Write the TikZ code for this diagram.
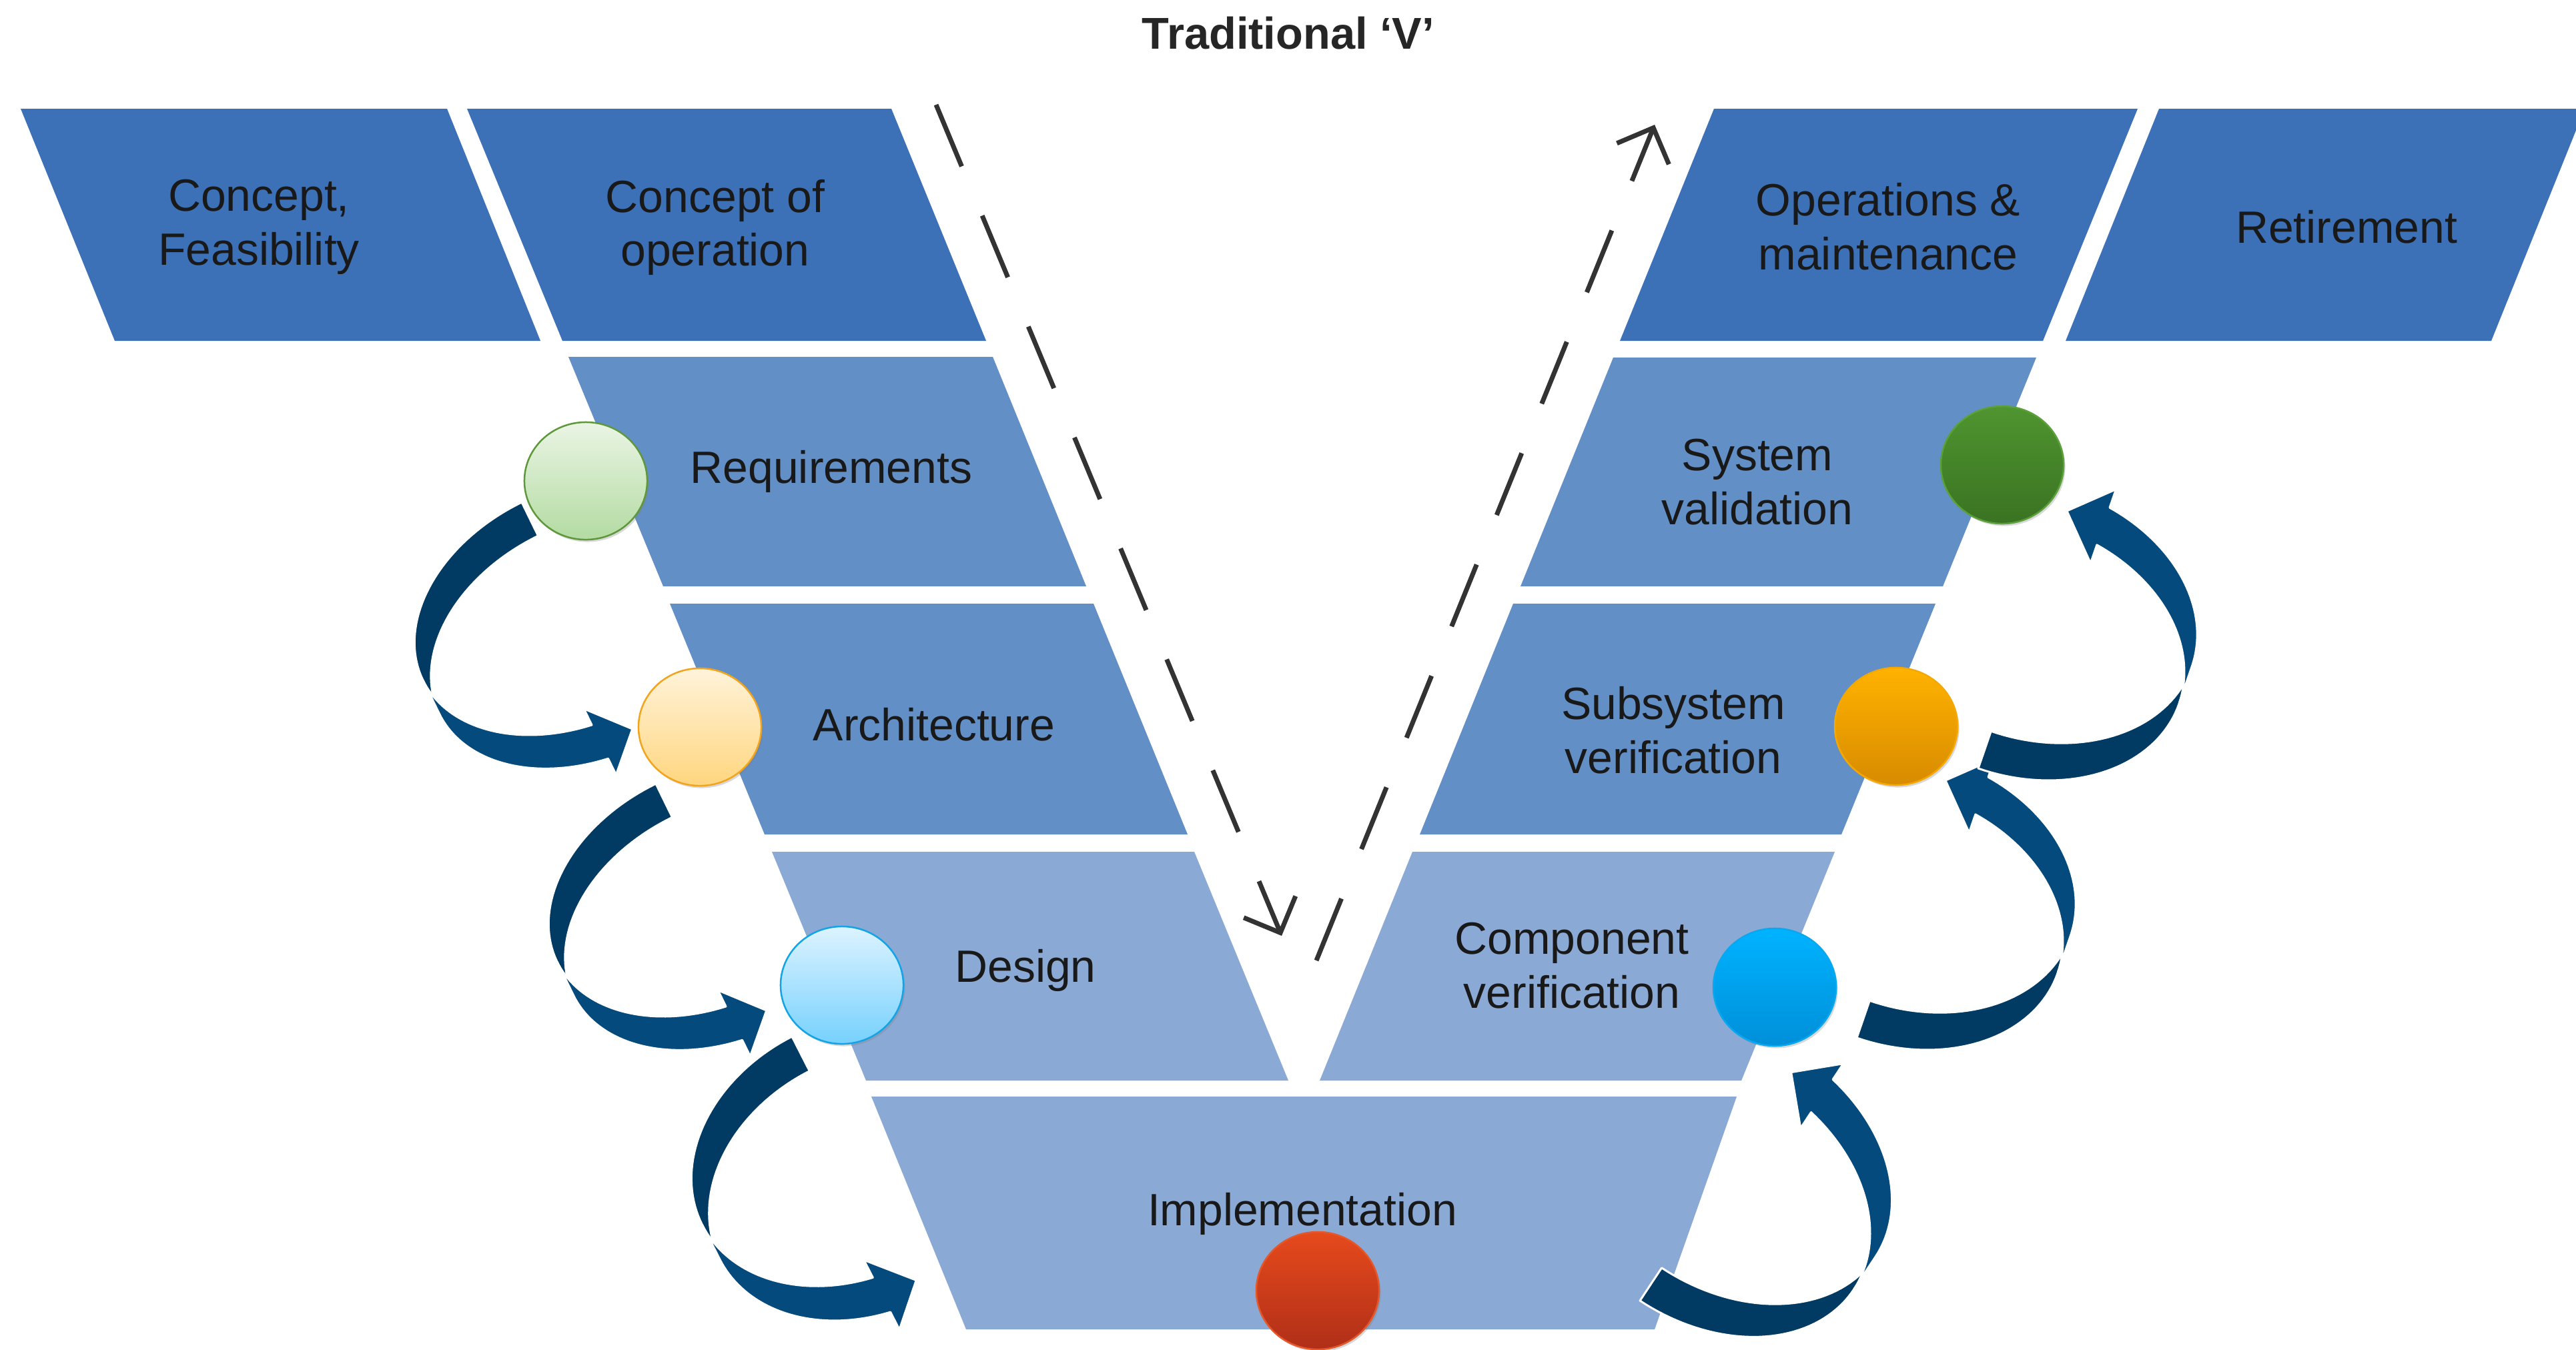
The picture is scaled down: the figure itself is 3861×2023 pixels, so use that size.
\documentclass[tikz,border=0pt]{standalone}
\usepackage{fontspec}
\setmainfont{Liberation Sans}
\usetikzlibrary{shapes.geometric, shadows, arrows.meta}

% stage bands
\definecolor{stageDark}{HTML}{3C71B7}
\definecolor{stageMid}{HTML}{628FC6}
\definecolor{stageLight}{HTML}{8BA9D5}
% looping block arrows
\definecolor{loopBack}{HTML}{013B64}
\definecolor{loopFront}{HTML}{044A7D}
% dashed flow lines
\definecolor{guide}{HTML}{333333}

% Curved block arrow (two twisted elliptic bands and a head).
% #1,#2 tail corner  #3 rotation  #4 half width  #5 arc radius (vertical)
% #6 band thickness  #7 head length  #8 head width
\newcommand{\loopArrow}[8]{%
  \begin{scope}[shift={(#1,#2)}, rotate=#3]
    \pgfmathsetmacro{\aW}{#4}
    \pgfmathsetmacro{\aR}{#5}
    \pgfmathsetmacro{\aT}{#6}
    \pgfmathsetmacro{\aH}{#7}
    \pgfmathsetmacro{\aD}{(#8-#6)/2}
    \pgfmathsetmacro{\aS}{180-acos(#7/#4)}
    \pgfmathsetmacro{\aY}{#5+#5*sin(\aS)}
    \filldraw[fill=loopBack, draw=white, line width=0.03cm, line join=round]
      plot[domain=270:180, samples=40, variable=\t] ({\aW*cos(\t)}, {\aR+\aR*sin(\t)})
      -- plot[domain=180:270, samples=40, variable=\t] ({\aW*cos(\t)}, {\aR+\aT+\aR*sin(\t)})
      -- cycle;
    \filldraw[fill=loopFront, draw=white, line width=0.03cm, line join=round]
      plot[domain=180:\aS, samples=40, variable=\t] ({\aW*cos(\t)}, {\aR+\aR*sin(\t)})
      -- ({-\aH}, {\aY-\aD})
      -- (0, {\aY+\aT/2+4})
      -- ({-\aH}, {\aY+\aT+\aD})
      -- plot[domain=\aS:180, samples=40, variable=\t] ({\aW*cos(\t)}, {\aR+\aT+\aR*sin(\t)})
      -- cycle;
  \end{scope}}

\tikzset{
  stagetext/.style={font=\fontsize{19.3}{23}\selectfont, text=black!90,
    align=center, inner sep=0pt},
  titletext/.style={font=\fontsize{19}{23}\selectfont\bfseries, text=black!85,
    inner sep=0pt},
  stagedot/.style={ellipse, minimum width=1.84cm, minimum height=1.76cm,
    inner sep=0pt, line width=0.025cm,
    drop shadow={shadow xshift=0.025cm, shadow yshift=-0.035cm, opacity=0.3}},
  flowline/.style={draw=guide, line width=0.07cm, dash pattern=on 1cm off 0.8cm,
    -{Straight Barb[length=0.42cm, width=0.84cm]}},
}

\begin{document}
\begin{tikzpicture}[x=0.01cm, y=-0.01cm]
  \useasboundingbox (0,0) rectangle (3861,2023);
  \clip (0,0) rectangle (3861,2023);
  \fill[white] (0,0) rectangle (3861,2023);

  % ---- top row ----
  \fill[stageDark] (31,163) -- (670,163) -- (810,511) -- (172,511) -- cycle;
  \fill[stageDark] (700,163) -- (1336,163) -- (1478,511) -- (843,511) -- cycle;
  \fill[stageDark] (2569,163) -- (3204,163) -- (3062,511) -- (2428,511) -- cycle;
  \fill[stageDark] (3236,163) -- (3874,163) -- (3734,511) -- (3096,511) -- cycle;

  % ---- left arm ----
  \fill[stageMid] (852,535) -- (1488,535) -- (1628,879) -- (994,879) -- cycle;
  \fill[stageMid] (1004,905) -- (1639,905) -- (1780,1251) -- (1146,1251) -- cycle;
  \fill[stageLight] (1157,1277) -- (1790,1277) -- (1931,1620) -- (1298,1620) -- cycle;

  % ---- right arm ----
  \fill[stageMid] (2418,536) -- (3052,536) -- (2912,879) -- (2279,879) -- cycle;
  \fill[stageMid] (2268,905) -- (2901,905) -- (2760,1251) -- (2128,1251) -- cycle;
  \fill[stageLight] (2117,1277) -- (2750,1277) -- (2610,1620) -- (1978,1620) -- cycle;

  % ---- bottom ----
  \fill[stageLight] (1306,1644) -- (2603,1644) -- (2480,1993) -- (1448,1993) -- cycle;

  % ---- labels ----
  \node[titletext] (title) at (1931,50) {Traditional ‘V’};
  \node[stagetext] (feas) at (388,340) {Concept,\\Feasibility};
  \node[stagetext] (conops) at (1072,341) {Concept of\\operation};
  \node[stagetext] (ops) at (2830,340) {Operations \&\\maintenance};
  \node[stagetext] (retire) at (3517,340) {Retirement};
  \node[stagetext] (req) at (1246,707) {Requirements};
  \node[stagetext] (arch) at (1400,1086) {Architecture};
  \node[stagetext] (design) at (1537,1455) {Design};
  \node[stagetext] (impl) at (1952,1820) {Implementation};
  \node[stagetext] (sysval) at (2634,723) {System\\validation};
  \node[stagetext] (subver) at (2508,1095) {Subsystem\\verification};
  \node[stagetext] (compver) at (2356,1448) {Component\\verification};

  % ---- dashed flow lines ----
  \coordinate (downStart) at (1403,157);
  \coordinate (downEnd) at (1921,1403);
  \coordinate (upStart) at (1973,1440);
  \coordinate (upEnd) at (2480,187);
  \draw[flowline] (downStart) -- (downEnd);
  \draw[flowline] (upStart) -- (upEnd);

  % ---- looping arrows ----
  \loopArrow{782}{753}{26}{250}{175}{56}{52}{110}
  \loopArrow{983}{1175}{26}{250}{175}{56}{52}{110}
  \loopArrow{1187}{1554}{27}{248}{191}{58}{56}{117}
  \loopArrow{2458}{1950}{146.5}{258}{191}{59}{58}{116}
  \loopArrow{2783}{1556}{161}{253}{190}{59}{59}{117}
  \loopArrow{2965}{1152}{161}{253}{190}{59}{59}{117}

  % ---- stage markers ----
  \node[stagedot, top color={rgb,255:red,234;green,245;blue,228}, bottom color={rgb,255:red,179;green,219;blue,162}, draw={rgb,255:red,94;green,152;blue,59}] (mReq) at (878,721) {};
  \node[stagedot, top color={rgb,255:red,255;green,243;blue,218}, bottom color={rgb,255:red,255;green,214;blue,127}, draw={rgb,255:red,242;green,165;blue,28}] (mArch) at (1049,1090) {};
  \node[stagedot, top color={rgb,255:red,221;green,243;blue,255}, bottom color={rgb,255:red,118;green,209;blue,253}, draw={rgb,255:red,18;green,164;blue,230}] (mDesign) at (1262,1477) {};
  \node[stagedot, top color={rgb,255:red,230;green,74;blue,28}, bottom color={rgb,255:red,176;green,47;blue,24}, draw={rgb,255:red,228;green,87;blue,42}] (mImpl) at (1975,1935) {};
  \node[stagedot, top color={rgb,255:red,79;green,149;blue,48}, bottom color={rgb,255:red,58;green,115;blue,34}, draw={rgb,255:red,91;green,160;blue,58}] (mSys) at (3001,697) {};
  \node[stagedot, top color={rgb,255:red,255;green,178;blue,0}, bottom color={rgb,255:red,215;green,139;blue,0}, draw={rgb,255:red,245;green,168;blue,0}] (mSub) at (2842,1089) {};
  \node[stagedot, top color={rgb,255:red,0;green,179;blue,255}, bottom color={rgb,255:red,0;green,143;blue,217}, draw={rgb,255:red,8;green,168;blue,240}] (mComp) at (2660,1480) {};
\end{tikzpicture}
\end{document}
